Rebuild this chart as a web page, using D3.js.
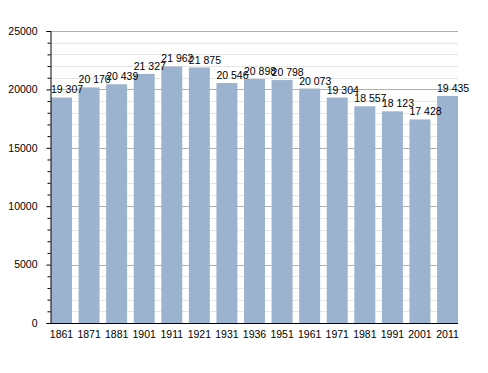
<!DOCTYPE html>
<html>
<head>
<meta charset="utf-8">
<script src="https://cdn.jsdelivr.net/npm/d3@7"></script>
<style>
  body { margin: 0; background: #fff; }
  text { font-family: "Liberation Sans", Arial, sans-serif; font-size: 10.5px; fill: #000; }
</style>
</head>
<body>
<div id="chart"></div>
<script>
var years = ["1861","1871","1881","1901","1911","1921","1931","1936","1951","1961","1971","1981","1991","2001","2011"];
var population = [19307, 20170, 20439, 21327, 21962, 21875, 20546, 20898, 20798, 20073, 19304, 18557, 18123, 17428, 19435];
var majorTicks = [0, 5000, 10000, 15000, 20000, 25000];

var dims = {
  width: 488,
  height: 373,
  left: 50,
  right: 458,
  top: 31,
  bottom: 323
}

var svg = d3.select("#chart")
            .append("svg")
            .attr("width", dims.width)
            .attr("height", dims.height);

var xScale = d3.scaleBand()
               .domain(years)
               .range([dims.left + 1, dims.right])
               .paddingInner(0.24)
               .paddingOuter(0);

var yScale = d3.scaleLinear()
               .domain([0, 25000])
               .range([dims.bottom, dims.top]);

// minor gridlines every 1000
var minor = d3.range(0, 25001, 1000).filter(function(v){ return v % 5000 != 0; });
svg.append("g").selectAll("line")
   .data(minor)
   .enter()
   .append("line")
   .attr("x1", dims.left).attr("x2", dims.right)
   .attr("y1", function(d){ return Math.round(yScale(d)) + 0.5; })
   .attr("y2", function(d){ return Math.round(yScale(d)) + 0.5; })
   .attr("stroke", "#e6e6e6");

// major gridlines
svg.append("g").selectAll("line")
   .data(majorTicks.slice(1))
   .enter()
   .append("line")
   .attr("x1", dims.left).attr("x2", dims.right)
   .attr("y1", function(d){ return Math.round(yScale(d)) + 0.5; })
   .attr("y2", function(d){ return Math.round(yScale(d)) + 0.5; })
   .attr("stroke", "#b0b0b0");

svg.append("g").selectAll("rect")
   .data(population)
   .enter()
   .append("rect")
   .attr("x", function(d,i){ return xScale(years[i]); })
   .attr("width", xScale.bandwidth())
   .attr("y", function(d){ return yScale(d); })
   .attr("height", function(d){ return dims.bottom - yScale(d); })
   .attr("fill", "#9bb3cf");

// value labels, starting at bar's left edge
var fmt = function(v){ return d3.format(",")(v).replace(",", " "); };
svg.append("g").selectAll("text")
   .data(population)
   .enter()
   .append("text")
   .attr("x", function(d,i){ return xScale(years[i]); })
   .attr("y", function(d){ return yScale(d) - 4; })
   .text(function(d){ return fmt(d); });

// y axis
var yAxis = d3.axisLeft(yScale).tickValues(majorTicks).tickSize(4).tickFormat(d3.format("d"));
var yg = svg.append("g")
            .attr("transform", "translate(" + (dims.left + 0.5) + ",0)")
            .call(yAxis);
yg.select(".domain").attr("stroke", "#000");
yg.selectAll(".tick line").attr("stroke", "#000");
yg.selectAll(".tick text").attr("x", -13).style("font-size", "10.5px").style("font-family", "Liberation Sans, Arial, sans-serif");

var yMinor = d3.axisLeft(yScale).tickValues(minor).tickSize(3).tickFormat("");
var ymg = svg.append("g")
             .attr("transform", "translate(" + (dims.left + 0.5) + ",0)")
             .call(yMinor);
ymg.select(".domain").remove();
ymg.selectAll(".tick line").attr("stroke", "#000");

// x axis
var xAxis = d3.axisBottom(xScale).tickSize(0).tickPadding(7);
var xg = svg.append("g")
            .attr("transform", "translate(0," + (dims.bottom + 0.5) + ")")
            .call(xAxis);
xg.select(".domain").attr("stroke", "#000").attr("d", "M" + dims.left + ",0H" + dims.right);
xg.selectAll(".tick text").style("font-size", "10.5px").style("font-family", "Liberation Sans, Arial, sans-serif");
</script>
</body>
</html>
